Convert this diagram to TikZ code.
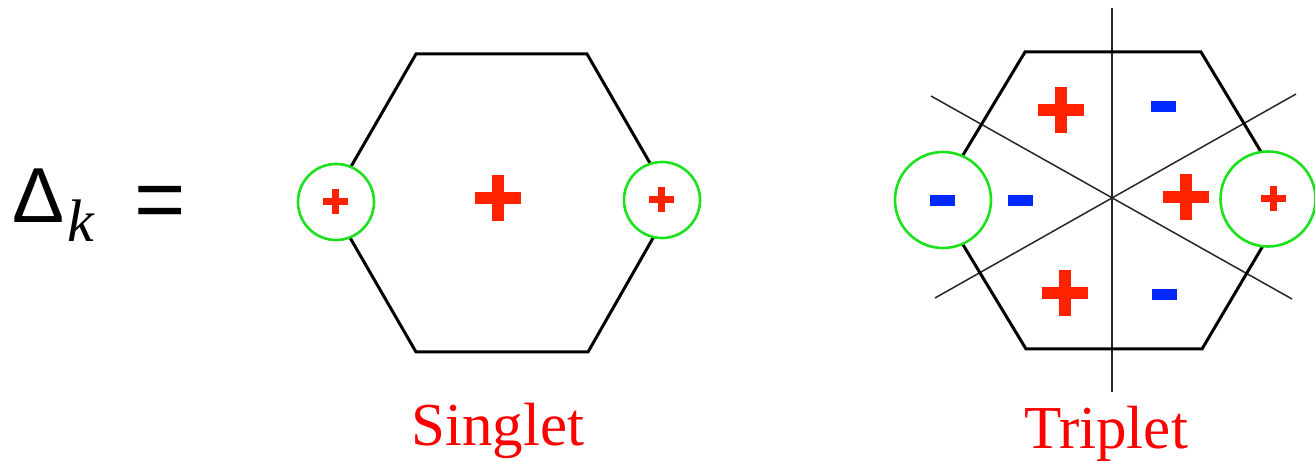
\documentclass[tikz,border=0pt]{standalone}
\usepackage{fontspec}
\setmainfont{Liberation Serif}
\newfontfamily\deltafont{Liberation Sans}
\usetikzlibrary{calc}
\definecolor{signred}{RGB}{255,34,0}
\definecolor{signblue}{RGB}{0,40,255}
\definecolor{ringgreen}{RGB}{30,225,30}
\definecolor{labelred}{RGB}{255,0,0}
\tikzset{
  hexline/.style={line width=3pt, line join=miter, black},
  nodeline/.style={line width=1.5pt, black!85},
  ring/.style={draw=ringgreen, line width=2.6pt, fill=white},
  bigplus/.pic={\fill[signred] (-23,-6) rectangle (23,6); \fill[signred] (-6,-23) rectangle (6,23);},
  smallplus/.pic={\fill[signred] (-12.5,-3.5) rectangle (12.5,3.5); \fill[signred] (-3.5,-12.5) rectangle (3.5,12.5);},
  minussign/.pic={\fill[signblue] (-12.5,-5.5) rectangle (12.5,5.5);},
  lbl/.style={text=labelred, font=\fontsize{61}{61}\selectfont, inner sep=0pt, anchor=base}
}
\begin{document}
\begin{tikzpicture}[x=1pt,y=-1pt]
\useasboundingbox (0,0) rectangle (1315,462);
% Delta_k =
\node[anchor=base west, inner sep=0pt, font=\deltafont\fontsize{78}{78}\selectfont] (delta) at (12,223) {Δ};
\node[anchor=base west, inner sep=0pt, font=\itshape\fontsize{60}{60}\selectfont] (k) at (67,242) {k};
\node[anchor=base west, inner sep=0pt, font=\deltafont\fontsize{88}{88}\selectfont] (eq) at (134,230) {=};
% Singlet hexagon
\coordinate (s1) at (416,54); \coordinate (s2) at (587,54); \coordinate (s3) at (673,203);
\coordinate (s4) at (588,352); \coordinate (s5) at (416,352); \coordinate (s6) at (330,203);
\draw[hexline] (s1) -- (s2) -- (s3) -- (s4) -- (s5) -- (s6) -- cycle;
\node[ring, circle, minimum size=76pt, inner sep=0pt] (sl) at (336,202) {};
\node[ring, circle, minimum size=76pt, inner sep=0pt] (sr) at (662,200) {};
\pic at (498,198) {bigplus};
\pic at (335,202) {smallplus};
\pic at (661,200) {smallplus};
\node[lbl] (singlet) at (498,445) {Singlet};
% Triplet hexagon
\coordinate (t1) at (1025,52); \coordinate (t2) at (1201,52); \coordinate (t3) at (1290,200);
\coordinate (t4) at (1202,349); \coordinate (t5) at (1026,349); \coordinate (t6) at (936,200);
\coordinate (c) at (1111,198);
\coordinate (vtop) at (1112,8); \coordinate (vbot) at (1112,392);
\coordinate (d1a) at (931,96); \coordinate (d1b) at (1292,299);
\coordinate (d2a) at (935,298); \coordinate (d2b) at (1296,94);
\draw[nodeline] (vtop) -- (vbot);
\draw[nodeline] (d1a) -- (d1b);
\draw[nodeline] (d2a) -- (d2b);
\draw[hexline] (t1) -- (t2) -- (t3) -- (t4) -- (t5) -- (t6) -- cycle;
\node[ring, circle, minimum size=96pt, inner sep=0pt] (tl) at (943,200) {};
\node[ring, circle, minimum size=95pt, inner sep=0pt] (tr) at (1268,199) {};
\pic at (1061,110) {bigplus};
\pic at (1163,107) {minussign};
\pic at (942,201) {minussign};
\pic at (1020,201) {minussign};
\pic at (1186,197) {bigplus};
\pic at (1273,199) {smallplus};
\pic at (1065,293) {bigplus};
\pic at (1164,295) {minussign};
\node[lbl] (triplet) at (1106,448) {Triplet};
\end{tikzpicture}
\end{document}
